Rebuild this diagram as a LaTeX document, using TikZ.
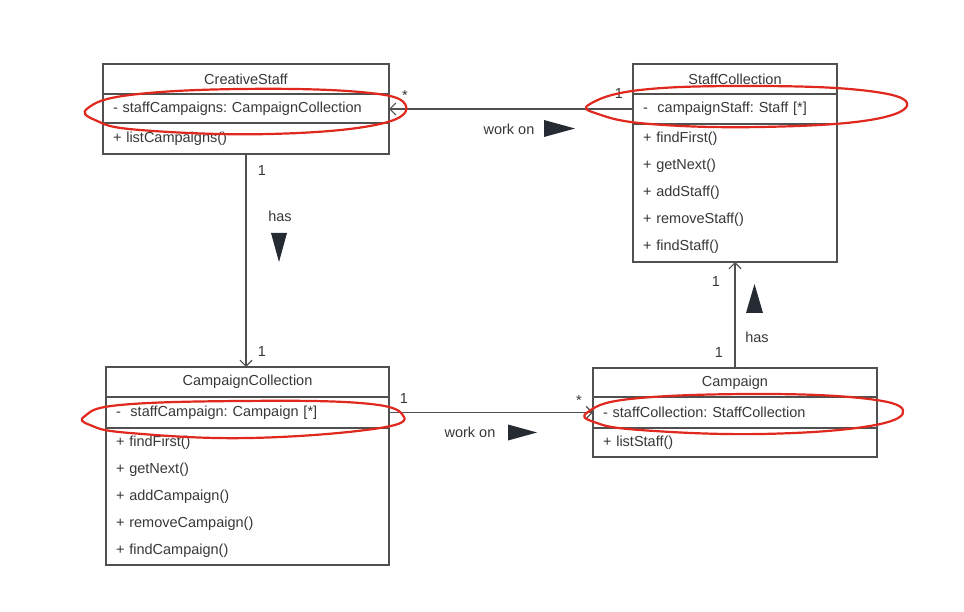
\documentclass[tikz,border=0pt]{standalone}
\usepackage{fontspec}
\setmainfont{Liberation Sans}
\usetikzlibrary{arrows.meta}
\definecolor{txt}{HTML}{383838}
\definecolor{ln}{HTML}{505050}
\definecolor{tri}{HTML}{252A33}
\definecolor{mark}{HTML}{E0281E}
\frenchspacing
\begin{document}
\begin{tikzpicture}[x=1pt,y=-1pt,
  every node/.style={font=\fontsize{14.5}{27}\selectfont\frenchspacing, text=txt},
  hdr/.style={draw=ln, line width=1.2pt, outer sep=0pt, inner sep=0pt, align=center},
  cmp/.style={draw=ln, line width=1.2pt, outer sep=0pt, inner sep=0pt, align=left, anchor=north},
  assoc/.style={draw=ln, line width=1.2pt, -{Straight Barb[length=6pt,width=12pt,line width=1.2pt]}},
  lbl/.style={inner sep=0pt},
  dirtri/.style={fill=tri},
  redmark/.style={draw=mark, line width=2.2pt}
]
\useasboundingbox[fill=white] (0,0) rectangle (964,612);

% CreativeStaff
\node[hdr, minimum width=286pt, minimum height=30pt] (cs) at (246,79) {CreativeStaff};
\node[cmp, minimum width=286pt, text width=266pt, minimum height=29pt] (csa) at (cs.south) {- staffCampaigns: CampaignCollection};
\node[cmp, minimum width=286pt, text width=266pt, minimum height=31pt] (cso) at (csa.south) {+ listCampaigns()};

% StaffCollection
\node[hdr, minimum width=204pt, minimum height=30pt] (sc) at (735,79) {StaffCollection};
\node[cmp, minimum width=204pt, text width=184pt, minimum height=30pt] (sca) at (sc.south) {-\ \ campaignStaff: Staff [*]};
\node[cmp, minimum width=204pt, text width=184pt, minimum height=138pt] (sco) at (sca.south) {+ findFirst()\\+ getNext()\\+ addStaff()\\+ removeStaff()\\+ findStaff()};

% CampaignCollection
\node[hdr, minimum width=283pt, minimum height=30pt] (cc) at (247.5,382) {CampaignCollection};
\node[cmp, minimum width=283pt, text width=263pt, minimum height=31pt] (cca) at (cc.south) {-\ \ staffCampaign: Campaign [*]};
\node[cmp, minimum width=283pt, text width=263pt, minimum height=137pt] (cco) at (cca.south) {+ findFirst()\\+ getNext()\\+ addCampaign()\\+ removeCampaign()\\+ findCampaign()};

% Campaign
\node[hdr, minimum width=284pt, minimum height=29pt] (ca) at (735,382.5) {Campaign};
\node[cmp, minimum width=284pt, text width=264pt, minimum height=31pt] (caa) at (ca.south) {- staffCollection: StaffCollection};
\node[cmp, minimum width=284pt, text width=264pt, minimum height=29pt] (cao) at (caa.south) {+ listStaff()};

% associations
\draw[assoc] (sca.west) -- (sca.west -| csa.east);
\draw[assoc] (cso.south) -- (cso.south |- cc.north);
\draw[assoc] (cca.east) -- (cca.east -| caa.west);
\draw[assoc] (ca.north) -- (ca.north |- sco.south);

% labels: top
\node[lbl] (m1) at (405,96) {*};
\node[lbl] (m2) at (619,94) {1};
\node[lbl] (w1) at (509,129) {work on};
\fill[dirtri] (544,120) -- (575,128.5) -- (544,137) -- cycle;

% labels: left vertical
\node[lbl] (m3) at (262,171) {1};
\node[lbl] (h1) at (280,216) {has};
\fill[dirtri] (271,233) -- (287,233) -- (279,262) -- cycle;
\node[lbl] (m4) at (262,352) {1};

% labels: bottom
\node[lbl] (m5) at (404,399) {1};
\node[lbl] (m6) at (579,401) {*};
\node[lbl] (w2) at (470,432) {work on};
\fill[dirtri] (508,424.5) -- (537,432.5) -- (508,440.5) -- cycle;

% labels: right vertical
\node[lbl] (m7) at (716,282) {1};
\node[lbl] (h2) at (757,337) {has};
\fill[dirtri] (746,313) -- (763,313) -- (754.5,284) -- cycle;
\node[lbl] (m8) at (719,353) {1};

% red hand-drawn marks
\draw[redmark] plot[smooth cycle, tension=0.7] coordinates {(88,108) (130,95) (240,89) (360,92) (405,104) (380,124) (270,134) (140,130) (95,120)};
\draw[redmark] plot[smooth cycle, tension=0.7] coordinates {(590,104) (640,90) (748,86) (860,90) (907,103) (870,120) (760,127) (650,124) (598,114)};
\draw[redmark] plot[smooth cycle, tension=0.7] coordinates {(85,416) (120,405) (240,401) (360,403) (402,414) (380,428) (250,438) (130,433) (90,425)};
\draw[redmark] plot[smooth cycle, tension=0.7] coordinates {(588,412) (630,399) (750,394) (860,398) (903,410) (870,426) (760,434) (640,430) (594,422)};
\end{tikzpicture}
\end{document}
